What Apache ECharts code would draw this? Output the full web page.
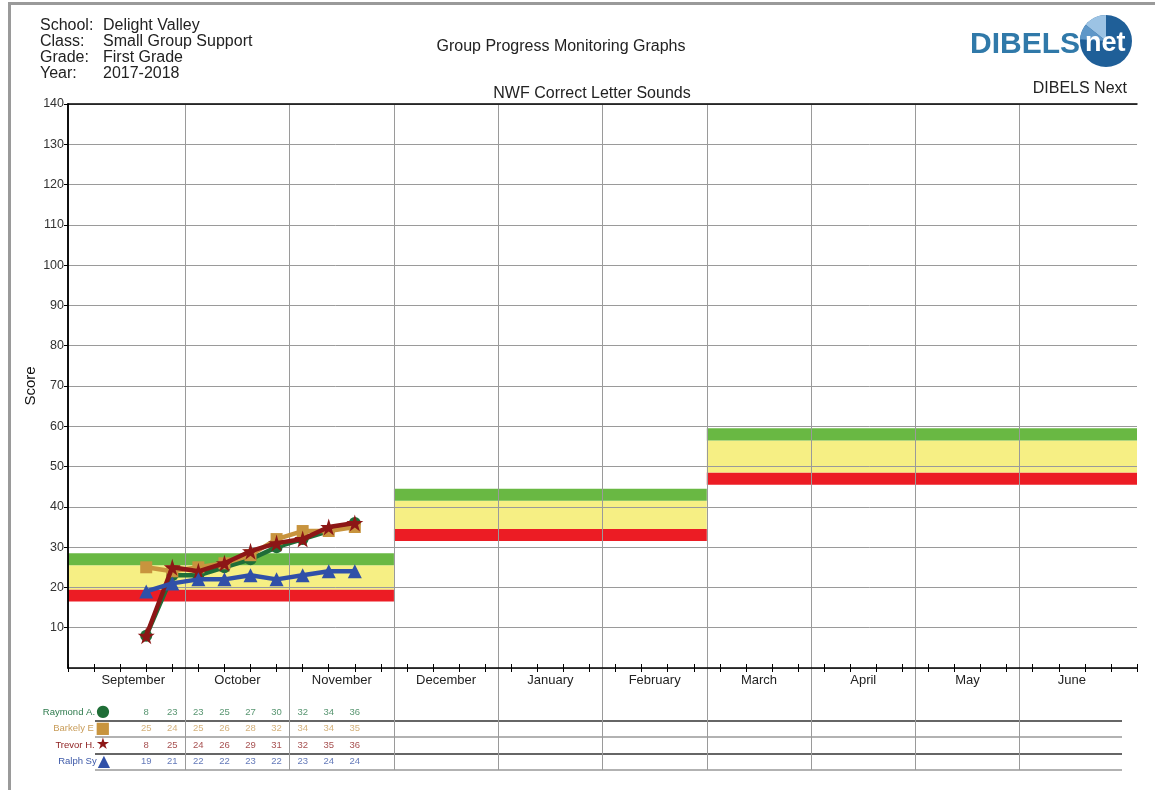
<!DOCTYPE html>
<html>
<head>
<meta charset="utf-8">
<title>Group Progress Monitoring Graphs</title>
<script src="https://cdn.jsdelivr.net/npm/echarts@6/dist/echarts.min.js"></script>
<style>
  html, body { margin: 0; padding: 0; background: #fff; }
  #chart { width: 1155px; height: 790px; }
</style>
</head>
<body>
<div id="chart"></div>
<script>
// x axis is counted in school weeks, 4 weeks per month
const months = ['September', 'October', 'November', 'December', 'January', 'February', 'March', 'April', 'May', 'June']
const totalWeeks = 41
const weeks = [3, 4, 5, 6, 7, 8, 9, 10, 11]

const students = ['Raymond A.', 'Barkely E', 'Trevor H.', 'Ralph Sy']
const raymond = [8, 23, 23, 25, 27, 30, 32, 34, 36]
const barkely = [25, 24, 25, 26, 28, 32, 34, 34, 35]
const trevor = [8, 25, 24, 26, 29, 31, 32, 35, 36]
const ralph = [19, 21, 22, 22, 23, 22, 23, 24, 24]

// benchmark periods: first and last month index of each
const periods = [[0, 2], [3, 5], [6, 9]]
const cutPoints = [18, 33, 47]
const goals = [27, 43, 58]

const colors = ['#1f6e37', '#c8943e', '#8c1616', '#3050a8']
const labelColors = ['#2d7a4c', '#c99d5a', '#8c1c1c', '#3c58a8']
const glyphs = ['\u25CF', '\u25A0', '\u2605', '\u25B2']
const starPath = 'path://M50,0 L61,35 L98,35 L68,57 L79,91 L50,70 L21,91 L32,57 L2,35 L39,35 Z'
const symbols = ['circle', 'rect', starPath, 'triangle']
const scores = [raymond, barkely, trevor, ralph]

const monthEdge = (i) => (i === 0 ? 0 : i === months.length ? totalWeeks : 4 * i + 0.5)
const monthCenters = months.map((m, i) => 4 * i + 2.5)
const monthBounds = months.slice(1).map((m, i) => monthEdge(i + 1))

const bands = []
periods.forEach((p, i) => {
  const x0 = monthEdge(p[0])
  const x1 = monthEdge(p[1] + 1)
  bands.push({ value: [x0, x1, cutPoints[i] - 1.5, cutPoints[i] + 1.5], itemStyle: { color: '#ec1c24' } })
  bands.push({ value: [x0, x1, cutPoints[i] + 1.5, goals[i] - 1.5], itemStyle: { color: '#f6ef84' } })
  bands.push({ value: [x0, x1, goals[i] - 1.5, goals[i] + 1.5], itemStyle: { color: '#69b843' } })
})

// table grid is narrower than the plot, keep its week scale aligned
const plotLeft = 68
const plotRight = 1137
const pxPerWeek = (plotRight - plotLeft) / totalWeeks
const tableLeft = 95
const tableRight = 1122
const tableMin = (tableLeft - plotLeft) / pxPerWeek
const tableMax = (tableRight - plotLeft) / pxPerWeek

const tableData = []
scores.forEach((arr, s) => {
  arr.forEach((v, j) => {
    tableData.push({ value: [weeks[j], students[s], v], label: { color: labelColors[s] } })
  })
})

const font = "'Liberation Sans', Arial, sans-serif"
const rich = {}
students.forEach((n, i) => {
  rich['n' + i] = { color: labelColors[i], fontSize: 9.5, fontFamily: font }
  rich['s' + i] = { color: colors[i], fontSize: 16, fontFamily: 'DejaVu Sans', padding: [0, 0, 0, 1] }
})

const chart = echarts.init(document.getElementById('chart'))

chart.setOption({
  animation: false,
  textStyle: { fontFamily: font },
  title: [
    { text: 'Group Progress Monitoring Graphs', left: 556, top: 34, textAlign: 'center',
      textStyle: { fontSize: 16, fontWeight: 'normal', color: '#222' } },
    { text: 'NWF Correct Letter Sounds', left: 587, top: 81, textAlign: 'center',
      textStyle: { fontSize: 16, fontWeight: 'normal', color: '#222' } },
    { text: 'DIBELS Next', right: 23, top: 76,
      textStyle: { fontSize: 16, fontWeight: 'normal', color: '#222' } }
  ],
  graphic: [
    { type: 'rect', shape: { x: 8, y: 2, width: 3, height: 790 }, style: { fill: '#9a9a9a' } },
    { type: 'rect', shape: { x: 8, y: 2, width: 1147, height: 3 }, style: { fill: '#9a9a9a' } },
    { type: 'text', left: 40, top: 18, style: { text: 'School:\nClass:\nGrade:\nYear:', font: '16px ' + font, lineHeight: 16, fill: '#222' } },
    { type: 'text', left: 103, top: 18, style: { text: 'Delight Valley\nSmall Group Support\nFirst Grade\n2017-2018', font: '16px ' + font, lineHeight: 16, fill: '#222' } },
    { type: 'text', left: 970, top: 30, style: { text: 'DIBELS', font: 'bold 30px ' + font, fill: '#3079a9' } },
    { type: 'circle', shape: { cx: 1106, cy: 41, r: 26 }, style: { fill: '#1f5f98' } },
    { type: 'sector', shape: { cx: 1106, cy: 41, r: 26, startAngle: -Math.PI / 2 - 0.9, endAngle: -Math.PI / 2 }, style: { fill: '#9cc3e4' } },
    { type: 'sector', shape: { cx: 1106, cy: 41, r: 26, startAngle: -Math.PI / 2 - 1.5, endAngle: -Math.PI / 2 - 0.9 }, style: { fill: '#5f97c8' } },
    { type: 'text', left: 1085, top: 30, style: { text: 'net', font: 'bold 27px ' + font, fill: '#fff' } }
  ],
  grid: [
    { left: plotLeft, right: 1155 - plotRight, top: 104, height: 564 },
    { left: plotLeft, right: 1155 - plotRight, top: 104, height: 666 },
    { left: tableLeft, right: 1155 - tableRight, top: 704, height: 66 }
  ],
  xAxis: [
    {
      type: 'value', gridIndex: 0, position: 'bottom', min: 0, max: totalWeeks, interval: 1,
      axisLine: { lineStyle: { color: '#000', width: 1.5 } },
      axisTick: { length: 4, lineStyle: { color: '#000' } },
      axisLabel: {
        customValues: monthCenters,
        formatter: (v) => months[monthCenters.indexOf(v)],
        fontSize: 13, color: '#222', margin: 6
      },
      splitLine: { show: false }
    },
    {
      type: 'value', gridIndex: 0, position: 'bottom', min: 0, max: totalWeeks, interval: 1,
      axisLine: { show: false },
      axisTick: { inside: true, length: 4, lineStyle: { color: '#000' } },
      axisLabel: { show: false },
      splitLine: { show: false }
    },
    {
      type: 'value', gridIndex: 0, position: 'top', min: 0, max: totalWeeks,
      axisLine: { lineStyle: { color: '#000', width: 1.5 } },
      axisTick: { show: false }, axisLabel: { show: false }, splitLine: { show: false }
    },
    {
      type: 'value', gridIndex: 1, min: 0, max: totalWeeks,
      axisLine: { show: false },
      axisTick: { show: false, customValues: monthBounds },
      axisLabel: { show: false },
      splitLine: { show: true, lineStyle: { color: '#9a9a9a', width: 1 } }
    },
    {
      type: 'value', gridIndex: 2, min: tableMin, max: tableMax, show: false
    }
  ],
  yAxis: [
    {
      type: 'value', gridIndex: 0, min: 0, max: 140, interval: 10,
      name: 'Score', nameLocation: 'middle', nameGap: 30, nameRotate: 90, nameMoveOverlap: false,
      nameTextStyle: { fontSize: 15, color: '#111' },
      axisLine: { show: true, lineStyle: { color: '#000', width: 1.5 } },
      axisTick: { show: true, length: 4, lineStyle: { color: '#000' } },
      axisLabel: { showMinLabel: false, fontSize: 12.5, color: '#333', margin: 4 },
      splitLine: { lineStyle: { color: '#9a9a9a', width: 1 } }
    },
    {
      type: 'value', gridIndex: 0, position: 'right', min: 0, max: 140,
      axisLine: { show: true, lineStyle: { color: '#000', width: 1.5 } },
      axisTick: { show: false }, axisLabel: { show: false }, splitLine: { show: false }
    },
    { type: 'value', gridIndex: 1, show: false, min: 0, max: 1 },
    {
      type: 'category', gridIndex: 2, data: students, inverse: true, offset: -15,
      axisLine: { show: false }, axisTick: { show: false },
      axisLabel: {
        margin: 0,
        formatter: (v) => {
          const i = students.indexOf(v)
          return '{n' + i + '|' + v + '}{s' + i + '|' + glyphs[i] + '}'
        },
        rich: rich
      },
      splitLine: { show: true, lineStyle: { color: ['rgba(0,0,0,0)', '#333', '#999', '#333', '#999'], width: 1.5 } }
    }
  ],
  series: [
    {
      type: 'custom', name: 'benchmarks', xAxisIndex: 0, yAxisIndex: 0, z: -1, silent: true,
      encode: { x: [0, 1], y: [2, 3] },
      data: bands,
      renderItem: (params, api) => {
        const p0 = api.coord([api.value(0), api.value(3)])
        const p1 = api.coord([api.value(1), api.value(2)])
        return {
          type: 'rect',
          shape: { x: p0[0], y: p0[1], width: p1[0] - p0[0], height: p1[1] - p0[1] },
          style: api.style()
        }
      }
    },
    ...[0, 1, 3, 2].map((s) => ({
      type: 'line', name: students[s], xAxisIndex: 0, yAxisIndex: 0, z: 3 + s,
      data: weeks.map((w, j) => [w, scores[s][j]]),
      symbol: symbols[s], symbolSize: s === 2 ? 17 : s === 3 ? 14 : 12,
      lineStyle: { color: colors[s], width: 4.5 },
      itemStyle: { color: colors[s] }
    })),
    {
      type: 'scatter', name: 'table', xAxisIndex: 4, yAxisIndex: 3,
      symbolSize: 0, data: tableData,
      label: { show: true, position: 'inside', fontSize: 9.5, formatter: (p) => p.value[2] }
    }
  ]
})
</script>
</body>
</html>
